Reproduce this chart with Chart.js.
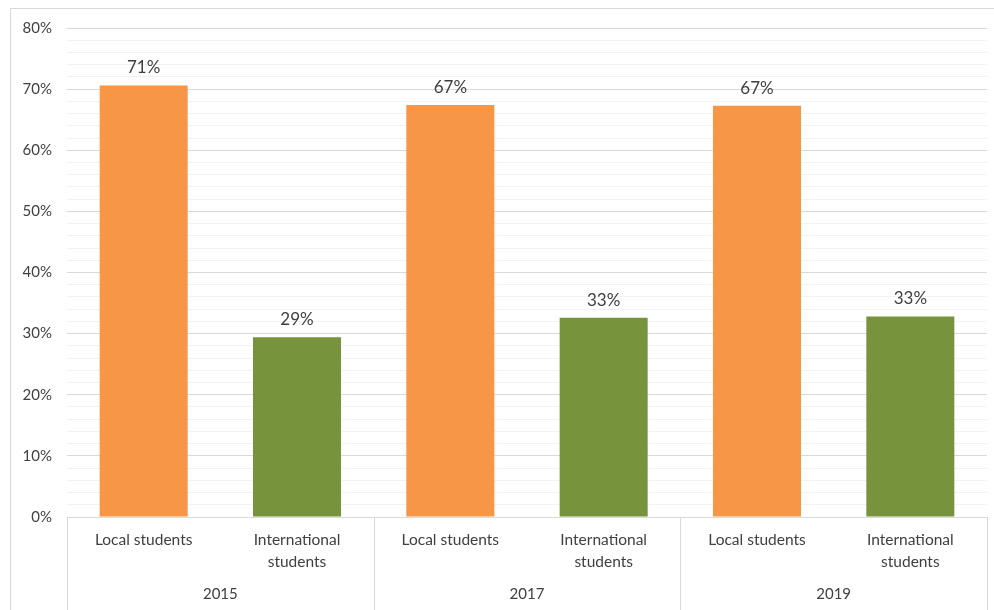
<!DOCTYPE html>
<html lang="en">
<head>
  <meta charset="UTF-8" />
  <title>Local vs international students</title>
  <script src="https://cdn.jsdelivr.net/npm/chart.js"></script>
  <style>
    body { margin: 0; background: #fff; }
    #wrap { width: 994px; height: 610px; }
  </style>
</head>
<body>
  <div id="wrap"><canvas id="studentsChart" width="994" height="610"></canvas></div>

<script>
  // data
  const years = ['2015', '2017', '2019'];
  const groupLabels = [['Local students'], ['International', 'students']];
  const shares = [0.706, 0.294, 0.674, 0.326, 0.673, 0.328];

  const categories = [];
  years.forEach(() => groupLabels.forEach(l => categories.push(l)));

  const ORANGE = '#F79646';
  const GREEN = '#77933C';
  const TEXT = '#404040';
  const FONT = 'Lato, "Open Sans", sans-serif';

  // frame, year row, separators and value labels
  const excelLook = {
    id: 'excelLook',
    beforeDraw(chart) {
      const c = chart.ctx;
      c.save();
      c.strokeStyle = '#d9d9d9';
      c.lineWidth = 1;
      c.strokeRect(10.5, 8.5, 1000, 700);
      c.restore();
    },
    afterDraw(chart) {
      const c = chart.ctx;
      const x = chart.scales.x;
      const area = chart.chartArea;
      const per = groupLabels.length;
      c.save();
      c.strokeStyle = '#d9d9d9';
      c.lineWidth = 1;
      // group boundaries
      const bounds = [area.left];
      for (let g = 1; g < years.length; g++) {
        const a = x.getPixelForValue(g * per - 1), b = x.getPixelForValue(g * per);
        bounds.push((a + b) / 2);
      }
      bounds.push(area.right);
      bounds.forEach(px => {
        const xx = Math.round(px) + 0.5;
        c.beginPath();
        c.moveTo(xx, area.bottom);
        c.lineTo(xx, chart.height);
        c.stroke();
      });
      // years
      c.fillStyle = TEXT;
      c.font = '15px ' + FONT;
      c.textAlign = 'center';
      c.textBaseline = 'middle';
      years.forEach((y, g) => c.fillText(y, (bounds[g] + bounds[g + 1]) / 2, 594));
      // value labels
      c.font = '17px ' + FONT;
      c.textBaseline = 'bottom';
      const meta = chart.getDatasetMeta(0);
      meta.data.forEach((bar, i) => {
        c.fillText(Math.round(shares[i] * 100) + '%', bar.x, bar.y - 9);
      });
      c.restore();
    }
  };

  new Chart(document.getElementById('studentsChart'), {
    type: 'bar',
    data: {
      labels: categories,
      datasets: [{
        data: shares,
        backgroundColor: ctx => ctx.dataIndex % 2 === 0 ? ORANGE : GREEN,
        barPercentage: 0.574,
        categoryPercentage: 1
      }]
    },
    options: {
      responsive: false,
      animation: false,
      layout: { padding: { top: 28, right: 7, bottom: 0, left: 0 } },
      plugins: { legend: { display: false }, tooltip: { enabled: false } },
      scales: {
        x: {
          grid: { display: false },
          border: { display: true, color: '#d9d9d9' },
          ticks: {
            color: TEXT,
            font: { family: FONT, size: 15.5, lineHeight: 1.42 },
            padding: 4,
            maxRotation: 0,
            autoSkip: false
          },
          afterFit: s => { s.height = 93; }
        },
        y: {
          min: 0,
          max: 0.8,
          afterFit: s => { s.width = 67; },
          border: { display: false },
          grid: {
            drawTicks: false,
            color: ctx => Math.round(ctx.tick.value * 100) % 10 === 0 ? '#d9d9d9' : '#f2f2f2'
          },
          ticks: {
            stepSize: 0.02,
            maxTicksLimit: 100,
            autoSkip: false,
            padding: 15,
            color: TEXT,
            font: { family: FONT, size: 15 },
            callback: v => Math.round(v * 100) % 10 === 0 ? Math.round(v * 100) + '%' : ''
          }
        }
      }
    },
    plugins: [excelLook]
  });
</script>
</body>
</html>
